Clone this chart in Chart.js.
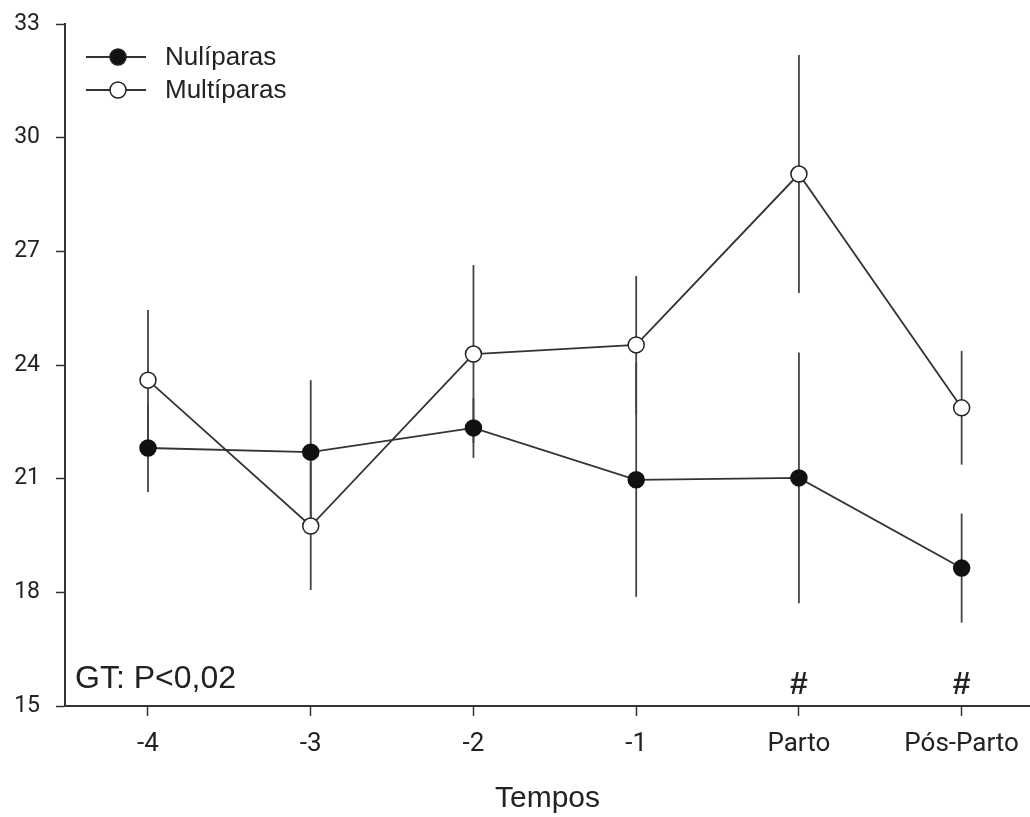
<!DOCTYPE html>
<html>
<head>
<meta charset="utf-8">
<script src="https://cdn.jsdelivr.net/npm/chart.js@4"></script>
<style>
  html, body { margin: 0; padding: 0; background: #fff; }
  #wrap { width: 1030px; height: 817px; }
</style>
</head>
<body>
<div id="wrap"><canvas id="c" width="1030" height="817"></canvas></div>
<script>
// ---- data ----
const categories = ['-4', '-3', '-2', '-1', 'Parto', 'Pós-Parto'];
const seriesNames = ['Nulíparas', 'Multíparas'];
const nuliparas = [21.81, 21.70, 22.34, 20.97, 21.02, 18.64];
const nuliparasSE = [1.16, 1.90, 0.79, 3.09, 3.31, 1.44];
const multiparas = [23.60, 19.75, 24.29, 24.53, 29.04, 22.87];
const multiparasSE = [1.85, 1.69, 2.35, 1.82, 3.14, 1.50];
const yTicks = [15, 18, 21, 24, 27, 30, 33];
const statText = 'GT: P<0,02';
const markedCategories = ['Parto', 'Pós-Parto'];
const markSymbol = '#';

// ---- build ----
const toPoints = arr => arr.map((v, i) => ({ x: i, y: v }));

const errorBars = {
  id: 'errorBars',
  beforeDatasetsDraw(chart) {
    const ctx = chart.ctx;
    const xs = chart.scales.x, ys = chart.scales.y;
    const sets = [[nuliparas, nuliparasSE], [multiparas, multiparasSE]];
    ctx.save();
    ctx.strokeStyle = '#444';
    ctx.lineWidth = 1.8;
    sets.forEach(([m, se]) => {
      m.forEach((v, i) => {
        const px = xs.getPixelForValue(i);
        ctx.beginPath();
        ctx.moveTo(px, ys.getPixelForValue(v + se[i]));
        ctx.lineTo(px, ys.getPixelForValue(v - se[i]));
        ctx.stroke();
      });
    });
    ctx.restore();
  }
};

const extras = {
  id: 'extras',
  afterDraw(chart) {
    const ctx = chart.ctx;
    const xs = chart.scales.x;
    ctx.save();
    // legend
    const rows = [
      { name: seriesNames[0], y: 57, fill: '#111' },
      { name: seriesNames[1], y: 90, fill: '#fff' }
    ];
    rows.forEach(r => {
      ctx.strokeStyle = '#333';
      ctx.lineWidth = 1.8;
      ctx.beginPath();
      ctx.moveTo(86, r.y);
      ctx.lineTo(146, r.y);
      ctx.stroke();
      ctx.beginPath();
      ctx.arc(118, r.y, 8, 0, Math.PI * 2);
      ctx.fillStyle = r.fill;
      ctx.fill();
      ctx.lineWidth = 1.5;
      ctx.strokeStyle = '#222';
      ctx.stroke();
      ctx.fillStyle = '#222';
      ctx.font = '26px "Liberation Sans", Arial, sans-serif';
      ctx.textAlign = 'left';
      ctx.textBaseline = 'middle';
      ctx.fillText(r.name, 165, r.y + 1);
    });
    // statistic text
    ctx.font = '32px "Liberation Sans", Arial, sans-serif';
    ctx.textAlign = 'left';
    ctx.textBaseline = 'alphabetic';
    ctx.fillStyle = '#222';
    ctx.fillText(statText, 75, 688);
    // significance marks
    ctx.font = 'bold 32px "Liberation Sans", Arial, sans-serif';
    ctx.textAlign = 'center';
    markedCategories.forEach(c => {
      const i = categories.indexOf(c);
      ctx.fillText(markSymbol, xs.getPixelForValue(i), 694);
    });
    ctx.restore();
  }
};

new Chart(document.getElementById('c'), {
  type: 'line',
  data: {
    datasets: [
      {
        label: seriesNames[0],
        data: toPoints(nuliparas),
        borderColor: '#333',
        borderWidth: 1.8,
        pointRadius: 8,
        pointBackgroundColor: '#111',
        pointBorderColor: '#111',
        pointBorderWidth: 1.5,
        tension: 0
      },
      {
        label: seriesNames[1],
        data: toPoints(multiparas),
        borderColor: '#333',
        borderWidth: 1.8,
        pointRadius: 8,
        pointBackgroundColor: '#fff',
        pointBorderColor: '#222',
        pointBorderWidth: 1.5,
        tension: 0
      }
    ]
  },
  options: {
    responsive: false,
    animation: false,
    events: [],
    layout: { autoPadding: false, padding: { top: 24, right: 0, left: 0, bottom: 0 } },
    plugins: { legend: { display: false }, tooltip: { enabled: false } },
    scales: {
      x: {
        type: 'linear',
        min: -0.51,
        max: 5.42,
        afterFit: s => { s.height = 111; s.paddingLeft = 0; s.paddingRight = 0; },
        afterBuildTicks: s => { s.ticks = categories.map((c, i) => ({ value: i })); },
        grid: { display: true, drawOnChartArea: false, drawTicks: true, tickLength: 10, tickColor: '#333', tickWidth: 1.5 },
        border: { display: true, color: '#333', width: 2 },
        ticks: {
          padding: 13,
          color: '#222',
          font: { family: 'Roboto', size: 26 },
          maxRotation: 0,
          autoSkip: false,
          callback: v => categories[v] !== undefined ? categories[v] : ''
        },
        title: {
          display: true,
          text: 'Tempos',
          color: '#222',
          font: { family: '"Liberation Sans", Arial, sans-serif', size: 30, lineHeight: 1.2 },
          padding: { top: 0, bottom: 0 }
        }
      },
      y: {
        min: 15,
        max: 33,
        afterFit: s => { s.width = 65; s.paddingTop = 0; s.paddingBottom = 0; },
        afterBuildTicks: s => { s.ticks = yTicks.map(v => ({ value: v })); },
        grid: { display: true, drawOnChartArea: false, drawTicks: true, tickLength: 9, tickColor: '#333', tickWidth: 1.5 },
        border: { display: true, color: '#333', width: 2 },
        ticks: {
          padding: 16,
          color: '#222',
          font: { family: 'Roboto', size: 23 }
        }
      }
    }
  },
  plugins: [errorBars, extras]
});
</script>
</body>
</html>
